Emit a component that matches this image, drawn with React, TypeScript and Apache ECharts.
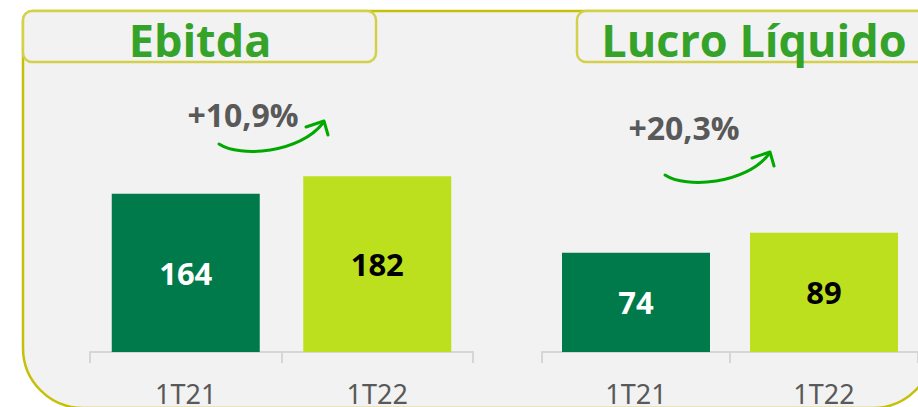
import React, { useEffect, useRef } from "react";
import * as echarts from "echarts";

const categories = ["1T21", "1T22"];
const ebitdaValues = [164, 182];
const lucroValues = [74, 89];
const growthLabels = ["+10,9%", "+20,3%"];
const panelTitles = ["Ebitda", "Lucro Líquido"];
const barColors = ["#007A4A", "#BDE01E"];
const valueLabelColors = ["#FFFFFF", "#000000"];

const AXIS_COLOR = "#D6D6D6";
const GRAY_TEXT = "#595959";
const TITLE_GREEN = "#35A32A";
const ARROW_GREEN = "#00A800";
const OLIVE = "#C5C10A";
const OLIVE_LIGHT = "#D4D04C";
const PANEL_BG = "#F2F2F2";

function arrow(dx: number, dy: number) {
  return {
    type: "group",
    x: dx,
    y: dy,
    z: 20,
    children: [
      {
        type: "bezierCurve",
        shape: { x1: 219, y1: 144, cpx1: 240, cpy1: 158, cpx2: 300, cpy2: 153, x2: 323, y2: 123 },
        style: { stroke: ARROW_GREEN, lineWidth: 3, fill: null, lineCap: "round" },
      },
      {
        type: "polyline",
        shape: { points: [[306, 127], [324, 121], [328, 135]] },
        style: { stroke: ARROW_GREEN, lineWidth: 3, fill: null, lineCap: "round", lineJoin: "round" },
      },
    ],
  };
}

export default function App() {
  const ref = useRef<HTMLDivElement>(null);
  useEffect(() => {
    if (!ref.current) return;
    const chart = echarts.init(ref.current, undefined, { renderer: "svg" });
    const mkData = (vals: number[]) =>
      vals.map((v, i) => ({
        value: v,
        itemStyle: { color: barColors[i] },
        label: { color: valueLabelColors[i] },
      }));
    const xAxisCommon = {
      type: "category",
      data: categories,
      axisLine: { show: true, lineStyle: { color: AXIS_COLOR, width: 2 } },
      axisTick: { show: true, length: 11, interval: 0, lineStyle: { color: AXIS_COLOR, width: 2 } },
      axisLabel: { color: GRAY_TEXT, fontSize: 27, fontFamily: "Noto Sans", margin: 28 },
      splitLine: { show: false },
    };
    const yAxisCommon = { type: "value", min: 0, show: false, splitLine: { show: false } };
    const labelCommon = {
      show: true,
      position: "inside",
      fontSize: 31,
      fontWeight: "bold",
      fontFamily: "Noto Sans",
    };
    chart.setOption({
      animation: false,
      backgroundColor: "#FFFFFF",
      grid: [
        { left: 90, width: 383, top: 159, height: 196 },
        { left: 542, width: 384, top: 218, height: 138 },
      ],
      xAxis: [
        { ...xAxisCommon, gridIndex: 0 },
        { ...xAxisCommon, gridIndex: 1 },
      ],
      yAxis: [
        { ...yAxisCommon, gridIndex: 0, max: 200 },
        { ...yAxisCommon, gridIndex: 1, max: 100 },
      ],
      series: [
        {
          type: "bar",
          xAxisIndex: 0,
          yAxisIndex: 0,
          barWidth: 148,
          data: mkData(ebitdaValues),
          label: labelCommon,
          z: 5,
        },
        {
          type: "bar",
          xAxisIndex: 1,
          yAxisIndex: 1,
          barWidth: 148,
          data: mkData(lucroValues),
          label: labelCommon,
          z: 5,
        },
      ],
      graphic: [
        {
          type: "rect",
          z: -10,
          shape: { x: 23, y: 11, width: 910, height: 397, r: [10, 10, 60, 60] },
          style: { fill: PANEL_BG, stroke: OLIVE, lineWidth: 2.5 },
        },
        {
          type: "rect",
          z: -5,
          shape: { x: 23, y: 11, width: 353, height: 51, r: 9 },
          style: { fill: PANEL_BG, stroke: OLIVE_LIGHT, lineWidth: 2.5 },
        },
        {
          type: "rect",
          z: -5,
          shape: { x: 577, y: 11, width: 356, height: 51, r: 9 },
          style: { fill: PANEL_BG, stroke: OLIVE_LIGHT, lineWidth: 2.5 },
        },
        {
          type: "text",
          z: 20,
          x: 200,
          y: 39,
          style: {
            text: panelTitles[0],
            fill: TITLE_GREEN,
            font: "bold 45px 'Open Sans'",
            align: "center",
            verticalAlign: "middle",
          },
        },
        {
          type: "text",
          z: 20,
          x: 754,
          y: 39,
          style: {
            text: panelTitles[1],
            fill: TITLE_GREEN,
            font: "bold 45px 'Open Sans'",
            align: "center",
            verticalAlign: "middle",
          },
        },
        {
          type: "text",
          z: 20,
          x: 243,
          y: 114,
          style: {
            text: growthLabels[0],
            fill: GRAY_TEXT,
            font: "bold 32px 'Open Sans'",
            align: "center",
            verticalAlign: "middle",
          },
        },
        {
          type: "text",
          z: 20,
          x: 684,
          y: 127,
          style: {
            text: growthLabels[1],
            fill: GRAY_TEXT,
            font: "bold 32px 'Open Sans'",
            align: "center",
            verticalAlign: "middle",
          },
        },
        arrow(0, 0),
        arrow(446, 31),
      ],
    });
    return () => chart.dispose();
  }, []);
  return (
    <div
      ref={ref}
      style={{ position: "absolute", left: 0, top: 0, width: 918, height: 407, overflow: "hidden" }}
    />
  );
}
